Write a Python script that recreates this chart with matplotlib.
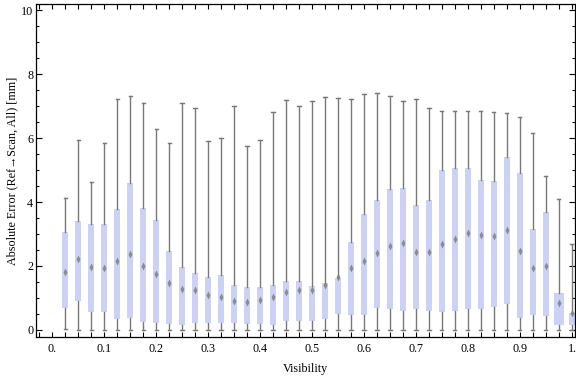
import numpy as np
import matplotlib
matplotlib.use("Agg")
import matplotlib.pyplot as plt
from matplotlib.ticker import MultipleLocator

# visibility bins (box centres)
visibility = np.round(np.arange(1, 41) * 0.025, 3)

# box-whisker statistics [mm]
whisk_hi = [4.12, 5.93, 4.64, 5.83, 7.21, 7.30, 7.08, 6.27, 5.86, 7.08,
            6.93, 5.90, 5.99, 6.99, 5.74, 5.93, 6.80, 7.18, 6.99, 7.15,
            7.27, 7.24, 7.21, 7.37, 7.40, 7.30, 7.15, 7.21, 6.93, 6.83,
            6.83, 6.83, 6.83, 6.80, 6.77, 6.65, 6.15, 4.80, 4.08, 2.68]
q3 = [3.05, 3.40, 3.31, 3.31, 3.78, 4.58, 3.81, 3.44, 2.46, 1.97,
      1.78, 1.66, 1.72, 1.41, 1.34, 1.34, 1.41, 1.52, 1.52, 1.36,
      1.47, 1.64, 2.75, 3.63, 4.06, 4.41, 4.44, 3.91, 4.06, 5.00,
      5.06, 5.06, 4.69, 4.66, 5.41, 4.91, 3.16, 3.69, 1.17, 0.53]
median = [1.80, 2.22, 1.98, 1.93, 2.17, 2.39, 2.00, 1.74, 1.48, 1.27,
          1.24, 1.09, 1.04, 0.91, 0.86, 0.94, 1.02, 1.18, 1.25, 1.25,
          1.41, 1.67, 1.94, 2.15, 2.40, 2.64, 2.71, 2.44, 2.45, 2.69,
          2.84, 3.04, 2.97, 2.95, 3.11, 2.47, 1.94, 2.01, 0.83, 0.52]
q1 = [0.70, 0.90, 0.57, 0.57, 0.35, 0.37, 0.26, 0.23, 0.20, 0.17,
      0.23, 0.23, 0.23, 0.23, 0.20, 0.20, 0.17, 0.27, 0.29, 0.29,
      0.35, 0.51, 0.48, 0.48, 0.70, 0.64, 0.60, 0.64, 0.60, 0.57,
      0.60, 0.64, 0.66, 0.73, 0.82, 0.37, 0.48, 0.45, 0.14, 0.14]
whisk_lo = [0.02] + [0.0] * 39

xtick_vals = [0.0, 0.1, 0.2, 0.3, 0.4, 0.5, 0.6, 0.7, 0.8, 0.9, 1.0]
xtick_labels = ["0.", "0.1", "0.2", "0.3", "0.4", "0.5",
                "0.6", "0.7", "0.8", "0.9", "1."]

plt.rcParams['font.family'] = ['Liberation Serif', 'DejaVu Serif']
plt.rcParams['font.size'] = 8.7

fig = plt.figure(figsize=(5.76, 3.77), dpi=100)
ax = fig.add_axes([36/576, 40/377, 539/576, 333/377])

stats = []
for i in range(len(visibility)):
    stats.append(dict(whislo=whisk_lo[i], q1=q1[i], med=median[i],
                      mean=median[i], q3=q3[i], whishi=whisk_hi[i]))

widths = [0.011] * len(visibility)
widths[38] = 0.019

gray = '#787878'
ax.bxp(stats, positions=visibility, widths=widths, capwidths=0.006,
       patch_artist=True, showfliers=False, showmeans=True,
       boxprops=dict(facecolor='#cbd2f5', edgecolor='none'),
       whiskerprops=dict(color=gray, linewidth=1.0),
       capprops=dict(color=gray, linewidth=1.0),
       medianprops=dict(visible=False),
       meanprops=dict(marker='d', markersize=4, markerfacecolor='#808080',
                      markeredgecolor='none', alpha=0.85),
       manage_ticks=False)

ax.set_xlim(-0.031, 1.006)
ax.set_ylim(-0.22, 10.19)

ax.set_xticks(xtick_vals)
ax.set_xticklabels(xtick_labels)
ax.xaxis.set_minor_locator(MultipleLocator(0.025))
ax.set_yticks([0, 2, 4, 6, 8, 10])
ax.yaxis.set_minor_locator(MultipleLocator(0.5))

ax.tick_params(which='both', direction='in', top=True, right=True,
               width=0.8, color='black')
ax.tick_params(axis='x', which='both', length=3.5, pad=4)
ax.tick_params(axis='y', which='major', length=4.5, pad=2)
ax.tick_params(axis='y', which='minor', length=2.5)
for s in ax.spines.values():
    s.set_linewidth(0.9)

ax.set_xlabel('Visibility', labelpad=6)
ax.set_ylabel('Absolute Error (Ref\u2192Scan, All) [mm]', labelpad=2)

fig.savefig('out.png', dpi=100)
